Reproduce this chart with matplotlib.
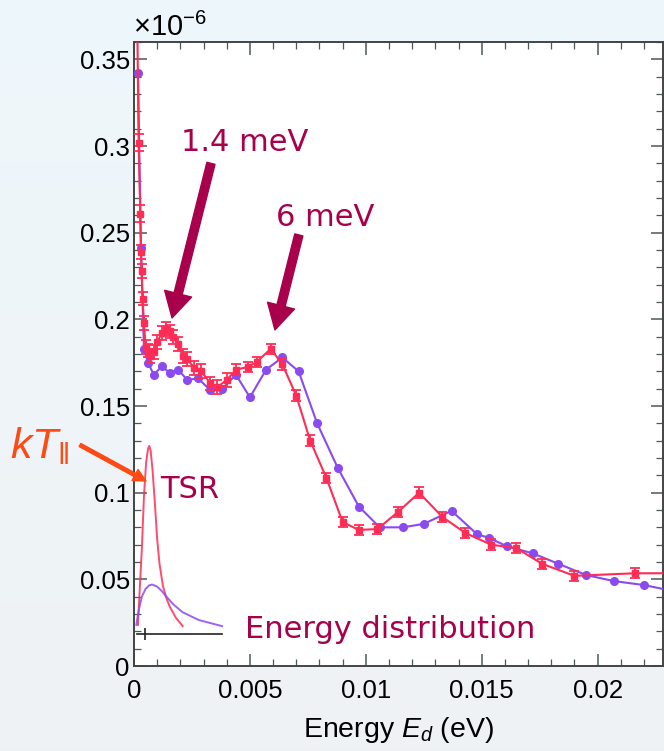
import numpy as np
import matplotlib
matplotlib.use("Agg")
import matplotlib.pyplot as plt
import matplotlib.ticker as mticker

plt.rcParams["font.family"] = ["Liberation Sans", "DejaVu Sans"]
plt.rcParams["mathtext.fontset"] = "custom"
plt.rcParams["mathtext.rm"] = "Liberation Sans"
plt.rcParams["mathtext.it"] = "Liberation Sans:italic"

# ── data (x in eV, y in units of 1e-6) ───────────────────────────────────────
x_purple = [0.00017, 0.0003, 0.00043, 0.0006, 0.00086, 0.0012, 0.00155, 0.0019,
            0.0023, 0.00276, 0.0033, 0.0038, 0.0044, 0.005, 0.0057, 0.0064,
            0.0071, 0.0079, 0.0088, 0.0097, 0.0106, 0.0116, 0.0125, 0.0137,
            0.0148, 0.0153, 0.0161, 0.0172, 0.0183, 0.0195, 0.0207, 0.0220, 0.0235]
y_purple = [0.342, 0.241, 0.183, 0.175, 0.168, 0.173, 0.169, 0.171,
            0.165, 0.166, 0.159, 0.160, 0.168, 0.155, 0.171, 0.178,
            0.170, 0.140, 0.114, 0.092, 0.080, 0.080, 0.082, 0.0895,
            0.076, 0.074, 0.069, 0.065, 0.059, 0.0525, 0.049, 0.0467, 0.0426]

x_red = [0.0001, 0.0002, 0.00027, 0.0003, 0.00033, 0.00037, 0.00043, 0.0005,
         0.0006, 0.0007, 0.00086, 0.001, 0.0012, 0.0014, 0.00155, 0.0017,
         0.0019, 0.0021, 0.0023, 0.0026, 0.0029, 0.0033, 0.0036, 0.004,
         0.0044, 0.0049, 0.0053, 0.0059, 0.0064, 0.007, 0.0076, 0.0083,
         0.009, 0.0097, 0.0105, 0.0114, 0.0123, 0.0133, 0.0143, 0.0154,
         0.0165, 0.0176, 0.019, 0.0216, 0.024]
y_red = [0.42, 0.302, 0.261, 0.239, 0.228, 0.212, 0.198, 0.184,
         0.182, 0.179, 0.181, 0.187, 0.192, 0.1945, 0.193, 0.190,
         0.186, 0.179, 0.177, 0.172, 0.170, 0.163, 0.161, 0.165,
         0.171, 0.1725, 0.1755, 0.183, 0.174, 0.156, 0.130, 0.1085,
         0.083, 0.0785, 0.079, 0.089, 0.100, 0.086, 0.0767, 0.070,
         0.068, 0.059, 0.052, 0.0535, 0.0535]
err_red = [0.005, 0.005, 0.005, 0.004, 0.004, 0.004, 0.004, 0.004,
           0.004, 0.004, 0.004, 0.004, 0.004, 0.004, 0.004, 0.004,
           0.004, 0.004, 0.004, 0.004, 0.004, 0.004, 0.004, 0.004,
           0.003, 0.003, 0.003, 0.003, 0.003, 0.003, 0.003, 0.003,
           0.003, 0.003, 0.003, 0.003, 0.003, 0.003, 0.003, 0.003,
           0.003, 0.003, 0.003, 0.003, 0.003]

# inset: TSR temperature distribution and energy distribution
tsr_x = [0.00017, 0.00025, 0.00034, 0.00043, 0.00052, 0.0006, 0.00066,
         0.00072, 0.0008, 0.0009, 0.001, 0.0011, 0.00125, 0.0014,
         0.00155, 0.0018, 0.0021]
tsr_y = [0.0237, 0.045, 0.068, 0.098, 0.117, 0.125, 0.127,
         0.124, 0.113, 0.094, 0.073, 0.059, 0.046, 0.039,
         0.034, 0.028, 0.023]
dist_x = [0.0001, 0.0002, 0.00034, 0.0005, 0.00065, 0.00078, 0.001, 0.0012,
          0.0014, 0.0017, 0.0021, 0.0028, 0.0038]
dist_y = [0.0237, 0.032, 0.040, 0.0445, 0.0465, 0.047, 0.0458, 0.0432,
          0.040, 0.0355, 0.031, 0.0265, 0.023]
base_x = [0.00013, 0.0038]
base_y = [0.0185, 0.0185]
base_mark_x = [0.00047]

RED    = "#ff2d55"
PURPLE = "#8a4af0"
WINE   = "#a8004b"
ORANGE = "#ff4a14"

# ── figure ───────────────────────────────────────────────────────────────────
fig = plt.figure(figsize=(6.64, 7.51), dpi=100)

# slide-like background gradient
bg = fig.add_axes([0, 0, 1, 1], zorder=-10)
grad = np.linspace(0, 1, 256)[:, None]
top_c = np.array([0.933, 0.969, 0.988])
bot_c = np.array([0.937, 0.949, 0.957])
img = top_c[None, None, :] * (1 - grad[..., None]) + bot_c[None, None, :] * grad[..., None]
bg.imshow(img, aspect="auto", extent=[0, 1, 0, 1])
bg.axis("off")

ax = fig.add_axes([134 / 664, 85 / 751, 529 / 664, 624 / 751])
ax.set_facecolor("white")

ax.plot(x_purple, y_purple, "-o", color=PURPLE, ms=5.5, lw=1.5, zorder=3)
ax.errorbar(x_red, y_red, yerr=err_red, fmt="-s", color=RED, ms=5,
            lw=1.5, elinewidth=1.3, capsize=3.5, capthick=1.3, zorder=4)

ax.plot(tsr_x, tsr_y, "-", color=RED, lw=1.4, alpha=0.85)
ax.plot(dist_x, dist_y, "-", color=PURPLE, lw=1.4, alpha=0.85)
ax.plot(base_x, base_y, "-", color="#222222", lw=1.2)
ax.plot(base_mark_x, [base_y[0]], "|", color="#222222", ms=9, mew=1.2)

ax.set_xlim(0, 0.02282)
ax.set_ylim(0, 0.36)
ax.xaxis.set_major_locator(mticker.MultipleLocator(0.005))
ax.xaxis.set_minor_locator(mticker.MultipleLocator(0.001))
ax.yaxis.set_major_locator(mticker.MultipleLocator(0.05))
ax.yaxis.set_minor_locator(mticker.MultipleLocator(0.01))
ax.xaxis.set_major_formatter(mticker.FuncFormatter(lambda v, _: f"{v:g}"))
ax.yaxis.set_major_formatter(mticker.FuncFormatter(lambda v, _: f"{v:g}"))
ax.tick_params(which="both", direction="in", top=True, right=True,
               color="#4a5a5a")
ax.tick_params(which="major", length=9, width=1.1, labelsize=18.5)
ax.tick_params(which="minor", length=5, width=0.9)
ax.tick_params(axis="y", pad=3)
ax.tick_params(axis="x", pad=9)
for s in ax.spines.values():
    s.set_color("#444444")
    s.set_linewidth(1.4)

ax.set_xlabel("Energy $E_d$ (eV)", fontsize=20.5, labelpad=9)
fig.text(133 / 664, (751 - 36) / 751, r"$\times10^{-6}$", fontsize=21,
         va="baseline", ha="left")

# ── annotations ──────────────────────────────────────────────────────────────
ax.text(0.00478, 0.3018, "1.4 meV", color=WINE, fontsize=22,
        family="DejaVu Sans", ha="center", va="center")
ax.annotate("", xy=(0.00164, 0.2008), xytext=(0.00332, 0.290),
            arrowprops=dict(width=6, headwidth=20, headlength=18,
                            color=WINE, shrink=0))
ax.text(0.00823, 0.259, "6 meV", color=WINE, fontsize=22,
        family="DejaVu Sans", ha="center", va="center")
ax.annotate("", xy=(0.00608, 0.1939), xytext=(0.00711, 0.2487),
            arrowprops=dict(width=6, headwidth=20, headlength=18,
                            color=WINE, shrink=0))
ax.text(0.00112, 0.102, "TSR", color=WINE, fontsize=22,
        family="DejaVu Sans", ha="left", va="center")
ax.text(0.00478, 0.0213, "Energy distribution", color=WINE, fontsize=22,
        family="DejaVu Sans", ha="left", va="center")

fig.text(10 / 664, (751 - 446) / 751, r"$kT_{\|}$", color=ORANGE,
         fontsize=31, ha="left", va="center")
ax.annotate("", xy=(146, 751 - 481), xytext=(80, 751 - 445),
            xycoords="figure pixels", textcoords="figure pixels",
            arrowprops=dict(width=2.5, headwidth=9, headlength=9,
                            color=ORANGE, shrink=0))

fig.savefig("out.png", dpi=100)
